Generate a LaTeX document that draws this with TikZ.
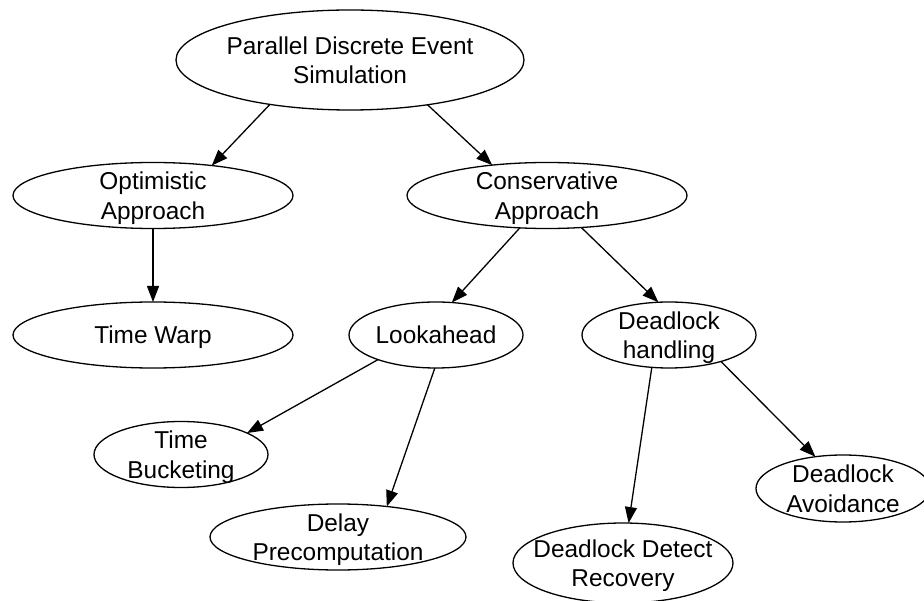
\documentclass[tikz,border=0pt]{standalone}
\usepackage{fontspec}
\setmainfont{Liberation Sans}
\usetikzlibrary{shapes.geometric,arrows.meta}
\newcommand{\elltext}[1]{\makebox[0pt]{\raisebox{-9.2pt}[0pt][0pt]{\begin{tabular}{@{}c@{}}#1\end{tabular}}}}
\begin{document}
\begin{tikzpicture}[x=1pt,y=-1pt,
  el/.style={ellipse,draw,line width=1.3pt,inner sep=0pt,outer sep=0pt,font=\fontsize{24.4}{29.5}\selectfont},
  conn/.style={line width=1.3pt,-{Triangle[length=16pt,width=12pt]}}]
\useasboundingbox (0,0) rectangle (924,601);
\clip (0,0) rectangle (924,601);
\node[el,minimum width=348pt,minimum height=100pt] (root) at (350,60) {\elltext{Parallel Discrete Event\\Simulation}};
\node[el,minimum width=280pt,minimum height=66pt] (opt) at (153,195.5) {\elltext{Optimistic\\Approach}};
\node[el,minimum width=280pt,minimum height=66pt] (cons) at (547,195.5) {\elltext{Conservative\\Approach}};
\node[el,minimum width=280pt,minimum height=66pt] (tw) at (153,335) {\elltext{Time Warp}};
\node[el,minimum width=174pt,minimum height=66pt] (look) at (436,335) {\elltext{Lookahead}};
\node[el,minimum width=174pt,minimum height=66pt] (dh) at (669,335) {\elltext{Deadlock\\handling}};
\node[el,minimum width=174pt,minimum height=66pt] (tb) at (181,454.5) {\elltext{Time\\Bucketing}};
\node[el,minimum width=256pt,minimum height=66pt] (delay) at (338,537) {\elltext{Delay\\Precomputation}};
\node[el,minimum width=220pt,minimum height=80pt] (ddr) at (623,563) {\elltext{Deadlock Detect\\Recovery}};
\node[el,minimum width=174pt,minimum height=67pt] (avoid) at (843,488.5) {\elltext{Deadlock\\Avoidance}};
\draw[conn] (root.209.9) -- (opt.27.3);
\draw[conn] (root.330.7) -- (cons.151.5);
\draw[conn] (opt.270) -- (tw.90);
\draw[conn] (cons.230.7) -- (look.64.1);
\draw[conn] (cons.317.5) -- (dh.108.4);
\draw[conn] (look.203.3) -- (tb.18.4);
\draw[conn] (look.268) -- (delay.32.1);
\draw[conn] (dh.242.7) -- (ddr.82.9);
\draw[conn] (dh.333) -- (avoid.131.2);
\end{tikzpicture}
\end{document}
